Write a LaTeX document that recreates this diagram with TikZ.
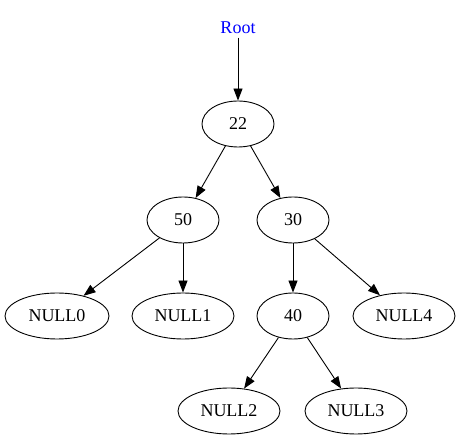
\documentclass[tikz,border=0pt]{standalone}
\usepackage{fontspec}
\setmainfont{Liberation Serif}
\usetikzlibrary{shapes.geometric,arrows.meta}
\begin{document}
\begin{tikzpicture}[x=1pt,y=-1pt,
  treenode/.style={draw,ellipse,line width=0.9pt,inner sep=0pt,minimum height=46pt,font=\fontsize{18}{20}\selectfont},
  small/.style={treenode,minimum width=72pt},
  wide/.style={treenode,minimum width=102pt},
  edge/.style={draw,line width=0.9pt,-{Triangle[length=12pt,width=9pt]}}]
\useasboundingbox (0,0) rectangle (461,443);
\node[font=\fontsize{18}{20}\selectfont,text=blue] (root) at (238,28) {Root};
\node[small] (n22) at (238,124) {22};
\node[small] (n50) at (183,220) {50};
\node[small] (n30) at (293,220) {30};
\node[wide,minimum width=104pt] (null0) at (57,316) {NULL0};
\node[wide] (null1) at (183,316) {NULL1};
\node[small] (n40) at (293,316) {40};
\node[wide] (null4) at (404,316) {NULL4};
\node[wide] (null2) at (229,411) {NULL2};
\node[wide] (null3) at (356,411) {NULL3};
\draw[edge] (root) -- (n22);
\draw[edge] (n22) -- (n50);
\draw[edge] (n22) -- (n30);
\draw[edge] (n50) -- (null0);
\draw[edge] (n50) -- (null1);
\draw[edge] (n30) -- (n40);
\draw[edge] (n30) -- (null4);
\draw[edge] (n40) -- (null2);
\draw[edge] (n40) -- (null3);
\end{tikzpicture}
\end{document}
